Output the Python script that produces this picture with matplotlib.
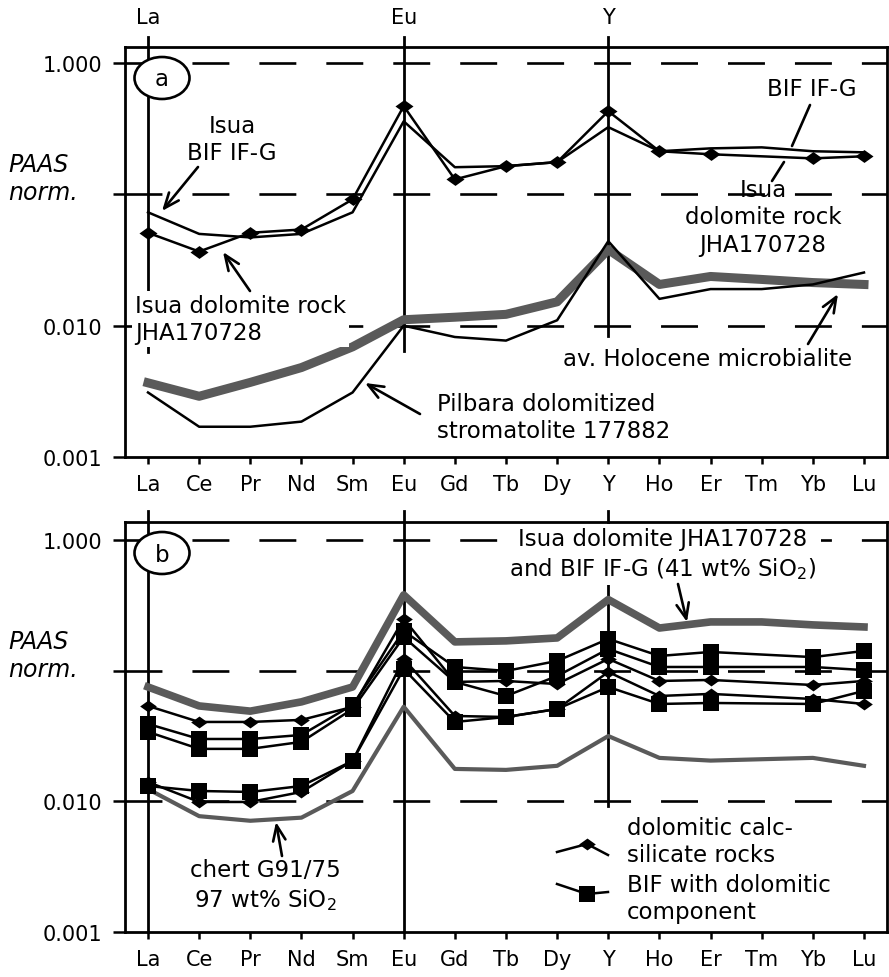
import numpy as np
import matplotlib
matplotlib.use('Agg')
import matplotlib.pyplot as plt
from matplotlib.patches import Ellipse, FancyArrowPatch
from matplotlib.path import Path
from matplotlib.lines import Line2D
from matplotlib.ticker import NullLocator

plt.rcParams['font.family'] = ['DejaVu Sans']
plt.rcParams['lines.scale_dashes'] = False
plt.rcParams['mathtext.default'] = 'regular'

# ---------------- data ----------------
elements = ['La', 'Ce', 'Pr', 'Nd', 'Sm', 'Eu', 'Gd', 'Tb', 'Dy', 'Y', 'Ho', 'Er', 'Tm', 'Yb', 'Lu']
elements_no_tm = [e for e in elements if e != 'Tm']
top_labels = ['La', 'Eu', 'Y']

# panel a
a_bif_ifg = [0.073, 0.050, 0.047, 0.050, 0.073, 0.36, 0.161, 0.164, 0.176, 0.325, 0.213, 0.224, 0.228, 0.213, 0.209]
a_isua_dolomite = [0.051, 0.0367, 0.051, 0.054, 0.0916, 0.47, 0.130, 0.164, 0.176, 0.43, 0.213, 0.202, 0.188, 0.195]  # no Tm
a_holocene = [0.00367, 0.0029, 0.0037, 0.0048, 0.0069, 0.0111, 0.0116, 0.0122, 0.0152, 0.038, 0.0206, 0.0237, 0.0225, 0.0213, 0.0206]
a_pilbara = [0.0031, 0.0017, 0.0017, 0.00186, 0.0031, 0.0100, 0.0082, 0.0077, 0.011, 0.044, 0.016, 0.019, 0.019, 0.0206, 0.0254]

# panel b
b_isua_mean = [0.075, 0.0537, 0.049, 0.0577, 0.075, 0.38, 0.166, 0.169, 0.178, 0.35, 0.212, 0.236, 0.236, 0.224, 0.216]
b_chert = [0.0124, 0.0077, 0.0071, 0.0075, 0.012, 0.053, 0.0177, 0.0174, 0.0187, 0.0316, 0.0215, 0.0205, 0.021, 0.0215, 0.0187]
# dolomitic calc-silicate rocks (diamonds), no Tm
b_calc_1 = [0.0537, 0.0405, 0.0405, 0.042, 0.0528, 0.2487, 0.082, 0.0834, 0.079, 0.123, 0.0834, 0.0849, 0.0777, 0.0834]
b_calc_2 = [0.01406, 0.00989, 0.00989, 0.0118, 0.0204, 0.123, 0.045, 0.0442, 0.0509, 0.0977, 0.064, 0.0664, 0.0607, 0.0556]
# BIF with dolomitic component (squares), no Tm
b_bif_1 = [0.0391, 0.030, 0.030, 0.0322, 0.0547, 0.2013, 0.1067, 0.0995, 0.1187, 0.175, 0.1296, 0.139, 0.127, 0.1415]
b_bif_2 = [0.034, 0.0252, 0.0252, 0.0285, 0.0509, 0.181, 0.082, 0.064, 0.091, 0.1466, 0.1067, 0.1067, 0.1067, 0.101]
b_bif_3 = [0.0131, 0.0120, 0.0118, 0.0131, 0.0204, 0.103, 0.0405, 0.0442, 0.0509, 0.075, 0.0556, 0.0566, 0.0556, 0.070]

ytick_vals = [1.0, 0.1, 0.01, 0.001]
ytick_labels = ['1.000', '', '0.010', '0.001']

# ---------------- figure ----------------
W, H = 889, 978
fig = plt.figure(figsize=(W / 100, H / 100), dpi=100)


def P(x, y):
    return (x / W, 1 - y / H)


GRAY = '#5a5a5a'
FS_TICK = 15
FS_TXT = 16.5
LW = 1.8

diamond = Path([(0, 1), (1.4, 0), (0, -1), (-1.4, 0), (0, 1)],
               [Path.MOVETO, Path.LINETO, Path.LINETO, Path.LINETO, Path.CLOSEPOLY])
square = Path([(-1.1, -1), (1.1, -1), (1.1, 1), (-1.1, 1), (-1.1, -1)],
              [Path.MOVETO, Path.LINETO, Path.LINETO, Path.LINETO, Path.CLOSEPOLY])

xpos = np.arange(len(elements))
xpos_nt = np.array([elements.index(e) for e in elements_no_tm])

axA = fig.add_axes([125 / W, 1 - 458 / H, 762 / W, 410 / H])
axB = fig.add_axes([125 / W, 1 - 933 / H, 762 / W, 410 / H])

for ax, ytop in ((axA, 1.325), (axB, 1.373)):
    ax.set_yscale('log')
    ax.set_xlim(-0.45, 14.45)
    ax.set_ylim(0.001, ytop)
    ax.set_yticks(ytick_vals)
    ax.set_yticklabels(ytick_labels)
    ax.yaxis.set_minor_locator(NullLocator())
    ax.set_xticks(xpos)
    ax.set_xticklabels(elements)
    ax.tick_params(axis='y', direction='out', length=8.6, width=1.8, pad=8, labelsize=FS_TICK)
    ax.tick_params(axis='x', direction='out', length=5, width=1.8, pad=7, labelsize=FS_TICK)
    for s in ax.spines.values():
        s.set_linewidth(2.0)
    for yv in ytick_vals[:3]:
        ax.axhline(yv, color='k', lw=1.9, linestyle=(0, (26.6, 21.6)), zorder=1)

# vertical reference lines
vl_a = {'La': (0.256, 1.0244), 'Eu': (0.2585, 1.0244), 'Y': (0.295, 1.0244)}
vl_b = {'La': (0.0, 1.027), 'Eu': (0.0, 1.027), 'Y': (0.307, 1.027)}
for name in top_labels:
    x = elements.index(name)
    axA.axvline(x, ymin=vl_a[name][0], ymax=vl_a[name][1], color='k', lw=2.0, clip_on=False, zorder=1.5)
    axB.axvline(x, ymin=vl_b[name][0], ymax=vl_b[name][1], color='k', lw=2.0, clip_on=False, zorder=1.5)
    axA.text(x, 1.073, name, transform=axA.get_xaxis_transform(), ha='center', va='center', fontsize=FS_TICK)

# ---------------- panel a series ----------------
axA.plot(xpos, a_holocene, color=GRAY, lw=6.5, zorder=2)
axA.plot(xpos, a_pilbara, color='k', lw=LW, zorder=3)
axA.plot(xpos, a_bif_ifg, color='k', lw=LW, zorder=3)
axA.plot(xpos_nt, a_isua_dolomite, color='k', lw=LW, marker=diamond, ms=13, mew=0, zorder=3)

# ---------------- panel b series ----------------
axB.plot(xpos, b_isua_mean, color=GRAY, lw=5.5, zorder=2)
axB.plot(xpos, b_chert, color=GRAY, lw=3, zorder=2)
for s in (b_calc_1, b_calc_2):
    axB.plot(xpos_nt, s, color='k', lw=LW, marker=diamond, ms=12, mew=0, zorder=3)
for s in (b_bif_1, b_bif_2, b_bif_3):
    axB.plot(xpos_nt, s, color='k', lw=LW, marker=square, ms=12, mew=0, zorder=3)

# ---------------- panel markers ----------------
for (cx, cy), lab in (((162, 79), 'a'), ((162, 554), 'b')):
    e = Ellipse(P(cx, cy), 55 / W, 42 / H, transform=fig.transFigure, facecolor='white',
                edgecolor='k', lw=1.9, zorder=5)
    fig.add_artist(e)
    fig.text(*P(cx, cy + 1), lab, ha='center', va='center', fontsize=FS_TXT, zorder=6)

# y-axis title
for cy in (179, 656):
    fig.text(*P(8, cy), 'PAAS\nnorm.', style='italic', ha='left', va='center', fontsize=FS_TXT + 0.5,
             linespacing=1.2)

ARW = dict(arrowstyle='->,head_length=1.1,head_width=0.45', lw=1.9, color='k', shrinkA=0, shrinkB=0)
LIN = dict(arrowstyle='-', lw=1.9, color='k', shrinkA=0, shrinkB=0)


def arrow(tail, head, props=ARW):
    fig.add_artist(FancyArrowPatch(P(*tail), P(*head), transform=fig.transFigure,
                                   zorder=6, mutation_scale=10, **props))


LS = 1.25
WB = dict(facecolor='white', edgecolor='none', pad=2)

# panel a annotations
fig.text(*P(232, 140), 'Isua\nBIF IF-G', ha='center', va='center', fontsize=FS_TXT, linespacing=LS)
arrow((198, 168), (162, 212))
fig.text(*P(812, 90), 'BIF IF-G', ha='center', va='center', fontsize=FS_TXT)
arrow((810, 106), (792, 147), LIN)
fig.text(*P(763, 218), 'Isua\ndolomite rock\nJHA170728', ha='center', va='center', fontsize=FS_TXT,
         linespacing=LS)
arrow((784, 163), (772, 182), LIN)
fig.text(*P(135, 320), 'Isua dolomite rock\nJHA170728', ha='left', va='center', fontsize=FS_TXT,
         linespacing=LS, bbox=WB, zorder=4)
arrow((250, 292), (223, 253))
fig.text(*P(708, 360), 'av. Holocene microbialite', ha='center', va='center', fontsize=FS_TXT)
arrow((808, 345), (838, 295))
fig.text(*P(437, 418), 'Pilbara dolomitized\nstromatolite 177882', ha='left', va='center',
         fontsize=FS_TXT, linespacing=LS)
arrow((420, 415), (365, 384))

# panel b annotations
fig.text(*P(663, 555), 'Isua dolomite JHA170728\nand BIF IF-G (41 wt% SiO$_2$)', ha='center',
         va='center', fontsize=FS_TXT, linespacing=LS, bbox=dict(facecolor='white', edgecolor='none', pad=3),
         zorder=4)
arrow((678, 585), (687, 623))
fig.text(*P(265, 886), 'chert G91/75\n97 wt% SiO$_2$', ha='center', va='center', fontsize=FS_TXT,
         linespacing=LS)
arrow((282, 857), (276, 823))

# legend (drawn by hand: bent symbol lines)
leg_d = Line2D([557 / W, 587 / W, 608 / W], [1 - 853 / H, 1 - 845 / H, 1 - 856 / H], transform=fig.transFigure,
               color='k', lw=LW, marker=diamond, ms=12, mew=0, markevery=[1])
leg_s = Line2D([557 / W, 587 / W, 608 / W], [1 - 885 / H, 1 - 895 / H, 1 - 893 / H], transform=fig.transFigure,
               color='k', lw=LW, marker=square, ms=12, mew=0, markevery=[1])
fig.add_artist(leg_d)
fig.add_artist(leg_s)
fig.text(*P(627, 842), 'dolomitic calc-\nsilicate rocks', ha='left', va='center', fontsize=FS_TXT,
         linespacing=LS)
fig.text(*P(627, 899), 'BIF with dolomitic\ncomponent', ha='left', va='center', fontsize=FS_TXT,
         linespacing=LS)

fig.savefig('out.png', dpi=100)
